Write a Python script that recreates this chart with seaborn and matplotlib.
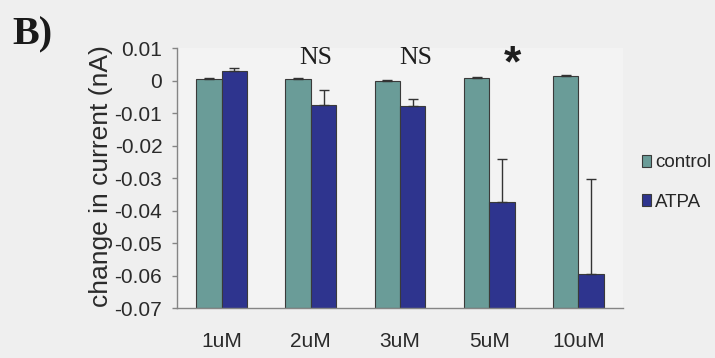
import numpy as np
import pandas as pd
import matplotlib
matplotlib.use("Agg")
import matplotlib.pyplot as plt
import seaborn as sns

# values (nA)
concentrations = ["1uM", "2uM", "3uM", "5uM", "10uM"]
groups = ["control", "ATPA"]
control_mean = [0.0005, 0.0005, 0.0000, 0.0010, 0.0014]
control_err = [0.0003, 0.0003, 0.0003, 0.0003, 0.0003]
atpa_mean = [0.0030, -0.0074, -0.0078, -0.0372, -0.0593]
atpa_err = [0.0008, 0.0045, 0.0022, 0.0130, 0.0292]
y_ticks = [0.01, 0.0, -0.01, -0.02, -0.03, -0.04, -0.05, -0.06, -0.07]
y_min, y_max = -0.07, 0.01

# significance marks: (text, x position in category units, y value)
marks = [("NS", 1.05, 0.0052), ("NS", 2.18, 0.0052), ("*", 3.26, 0.0050)]

df = pd.DataFrame({
    "conc": concentrations * 2,
    "group": [groups[0]] * 5 + [groups[1]] * 5,
    "current": control_mean + atpa_mean,
})
errs = {"control": control_err, "ATPA": atpa_err}

sns.set_style("white")
plt.rcParams["axes.unicode_minus"] = False
sans = ["Liberation Sans", "DejaVu Sans"]
plt.rcParams["font.family"] = sans

bg = "#efefef"
grey = "#858585"

fig = plt.figure(figsize=(7.15, 3.58), dpi=100, facecolor=bg)
ax = fig.add_axes([0.2476, 0.1388, 0.6238, 0.7262])
ax.set_facecolor("#f3f3f3")

palette = {"control": "#6a9c98", "ATPA": "#2e348e"}
sns.barplot(data=df, x="conc", y="current", hue="group", hue_order=groups,
            order=concentrations, palette=palette, width=0.57, errorbar=None,
            edgecolor="#3a3a3a", linewidth=0.8, saturation=1, ax=ax)

# Excel-style bars: they grow from the bottom of the axis, not from zero
for cont, g in zip(ax.containers, groups):
    xs, tops = [], []
    for p in cont.patches:
        h = p.get_height()
        p.set_y(y_min)
        p.set_height(h - y_min)
        xs.append(p.get_x() + p.get_width() / 2)
        tops.append(h)
    ax.errorbar(xs, tops, yerr=[np.zeros(len(xs)), errs[g]], fmt="none",
                ecolor="#333333", elinewidth=1.0, capsize=3.5, capthick=1.0)

ax.set_ylim(y_min, y_max)
ax.set_xlim(-0.5, 4.5)
ax.set_yticks(y_ticks)
ax.set_yticklabels([f"{v:g}" for v in y_ticks])
ax.set_xticks(np.arange(-0.5, 5, 1), minor=True)
ax.tick_params(axis="x", which="major", length=0, pad=17, labelsize=15,
               labelcolor="#2a2a2a")
ax.tick_params(axis="x", which="minor", length=5, width=1, color=grey,
               direction="out")
ax.tick_params(axis="y", length=3.6, width=1, color=grey, pad=7,
               labelsize=15, labelcolor="#2a2a2a", direction="out", left=True)
ax.set_xlabel("")
ax.set_ylabel("")
for s in ["top", "right"]:
    ax.spines[s].set_visible(False)
for s in ["left", "bottom"]:
    ax.spines[s].set_color(grey)
    ax.spines[s].set_linewidth(1)

fig.text(101 / 715, 1 - 176 / 358, "change in current (nA)", rotation=90,
         ha="center", va="center", fontsize=19, color="#2a2a2a",
         family=sans)

for txt, xpos, ypos in marks:
    if txt == "*":
        ax.text(xpos, ypos, txt, ha="center", va="center", fontsize=32,
                fontweight="bold", family=sans, color="#1e1e1e")
    else:
        ax.text(xpos, ypos, txt, ha="center", va="baseline", fontsize=18.5,
                family=["Liberation Serif", "DejaVu Serif"], color="#1e1e1e")

fig.text(12 / 715, 1 - 44 / 358, "B)", ha="left", va="baseline", fontsize=29,
         fontweight="bold", family=["Liberation Serif", "DejaVu Serif"],
         color="#1a1a1a")

sns.move_legend(ax, "center left", bbox_to_anchor=(642 / 715, 1 - 182.5 / 358),
                bbox_transform=fig.transFigure, frameon=False, title=None,
                fontsize=13.5, handlelength=0.5, handleheight=0.6,
                handletextpad=0.2, labelspacing=1.2, borderpad=0,
                borderaxespad=0)

fig.savefig("out.png", dpi=100, facecolor=bg)
